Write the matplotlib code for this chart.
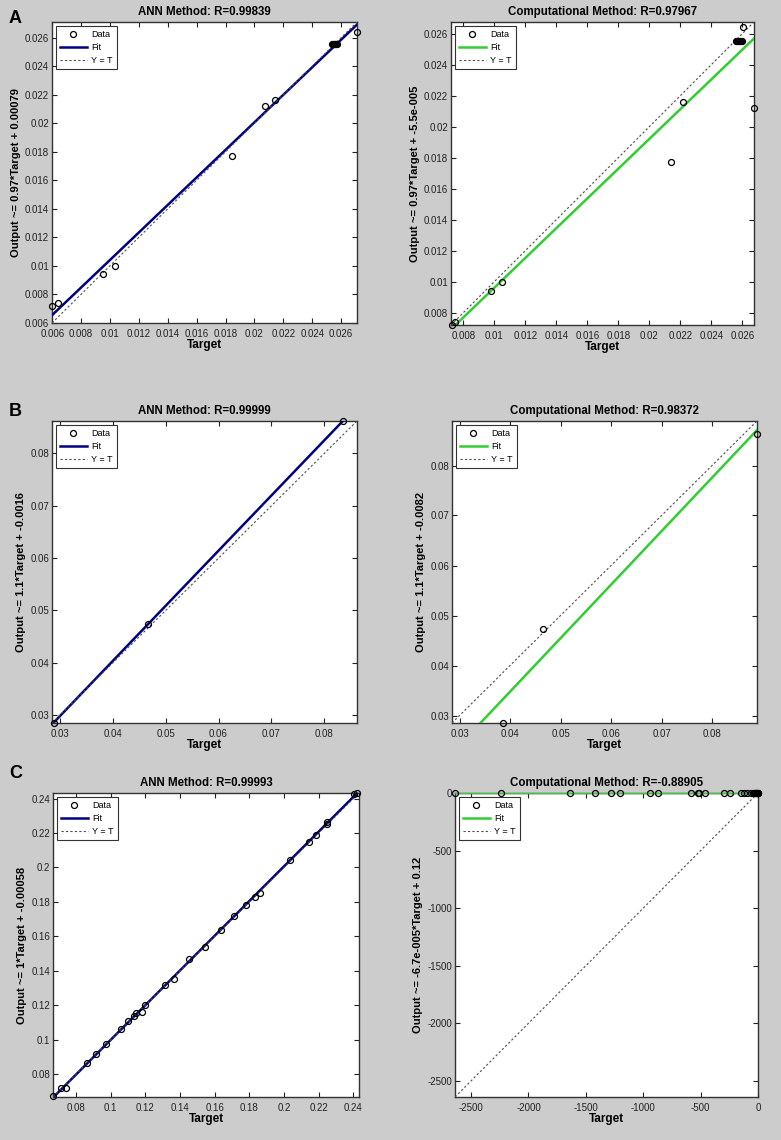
import numpy as np
import matplotlib
matplotlib.use('Agg')
import matplotlib.pyplot as plt
from matplotlib.ticker import FuncFormatter, MultipleLocator
from matplotlib.lines import Line2D

plt.rcParams['font.family'] = ['Liberation Sans', 'DejaVu Sans']

# ---------------- data ----------------
# Panel A (shared outputs)
a_outputs = [0.0072, 0.0074, 0.0094, 0.0100, 0.0177, 0.0212, 0.0216,
             0.02553, 0.02553, 0.02553, 0.02553, 0.02553, 0.02553, 0.02553, 0.0264]
a_ann_targets = [0.00598, 0.0064, 0.0095, 0.01035, 0.01846, 0.02073, 0.02142,
                 0.02535, 0.02542, 0.02548, 0.02553, 0.02558, 0.02563, 0.0257, 0.0271]
a_comp_targets = [0.00725, 0.00746, 0.00977, 0.01047, 0.0214, 0.02675, 0.0222,
                  0.02562, 0.02568, 0.02574, 0.0258, 0.02586, 0.02592, 0.02598, 0.02604]

# Panel B
b_outputs = [0.0285, 0.0474, 0.0862]
b_ann_targets = [0.0288, 0.0466, 0.08355]
b_comp_targets = [0.03868, 0.04643, 0.0889]

# Panel C
c_outputs = [0.0672, 0.0722, 0.0722, 0.0864, 0.0916, 0.0974, 0.1061, 0.1111,
             0.1140, 0.1157, 0.1163, 0.1200, 0.1316, 0.1351, 0.1467, 0.1536,
             0.1636, 0.1718, 0.1785, 0.1829, 0.1853, 0.2042, 0.2148, 0.2191,
             0.2264, 0.2251, 0.2429, 0.2432]
c_ann_targets = [0.0668, 0.0716, 0.0745, 0.0864, 0.0915, 0.0973, 0.1058, 0.1100,
                 0.1133, 0.1148, 0.1181, 0.1196, 0.1315, 0.1363, 0.1454, 0.1542,
                 0.1638, 0.1711, 0.1780, 0.1830, 0.1859, 0.2032, 0.2141, 0.2183,
                 0.2247, 0.2247, 0.2406, 0.2423]
c_comp_targets = [-2640, -2238, -1634, -1424, -1284, -1205, -939, -875, -584, -520,
                  -511, -461, -292, -248, -152, -122, -93, -64, -45, -38, -30, -24,
                  -18, -12, -8, -5, -2, -0.5]
c_comp_outputs = sorted(c_outputs, reverse=True)

titles = ['ANN Method: R=0.99839', 'Computational Method: R=0.97967',
          'ANN Method: R=0.99999', 'Computational Method: R=0.98372',
          'ANN Method: R=0.99993', 'Computational Method: R=-0.88905']
ylabels = ['Output ~= 0.97*Target + 0.00079', 'Output ~= 0.97*Target + -5.5e-005',
           'Output ~= 1.1*Target + -0.0016', 'Output ~= 1.1*Target + -0.0082',
           'Output ~= 1*Target + -0.00058', 'Output ~= -6.7e-005*Target + 0.12']
tick_steps = [0.002, 0.002, 0.01, 0.01, 0.02, 500]
panel_letters = ['A', 'B', 'C']

# ---------------- layout ----------------
W, H = 781, 1140
fig = plt.figure(figsize=(W / 100, H / 100), dpi=100, facecolor='#cccccc')

def pos(x0, y0, x1, y1):
    return [x0 / W, 1 - y1 / H, (x1 - x0) / W, (y1 - y0) / H]

boxes = [(52, 22, 357, 323), (451, 22, 754, 325),
         (52, 421, 357, 723), (452, 421, 757, 723),
         (53, 793, 359, 1097), (455, 793, 758, 1097)]

datasets = [(a_ann_targets, a_outputs), (a_comp_targets, a_outputs),
            (b_ann_targets, b_outputs), (b_comp_targets, b_outputs),
            (c_ann_targets, c_outputs), (c_comp_targets, c_comp_outputs)]

fmt = FuncFormatter(lambda v, p: '%g' % round(v, 8))
ANN_COLOR = '#000080'
COMP_COLOR = '#33cc33'

for i, (box, (t, o)) in enumerate(zip(boxes, datasets)):
    ax = fig.add_axes(pos(*box))
    t = np.asarray(t, float)
    o = np.asarray(o, float)
    lo = min(t.min(), o.min())
    hi = max(t.max(), o.max())
    color = ANN_COLOR if i % 2 == 0 else COMP_COLOR
    slope, intercept = np.polyfit(t, o, 1)
    xs = np.array([lo, hi])
    ax.plot(t, o, ls='none', marker='o', mfc='none', mec='k', mew=0.9, ms=4.3,
            zorder=3, clip_on=False)
    ax.plot(xs, slope * xs + intercept, color=color, lw=1.8, zorder=2.6)
    ax.plot(xs, xs, color='0.3', ls=(0, (2, 2)), lw=0.8, zorder=2.7)
    ax.set_xlim(lo, hi)
    ax.set_ylim(lo, hi)
    ax.xaxis.set_major_locator(MultipleLocator(tick_steps[i]))
    ax.yaxis.set_major_locator(MultipleLocator(tick_steps[i]))
    ax.xaxis.set_major_formatter(fmt)
    ax.yaxis.set_major_formatter(fmt)
    ax.tick_params(direction='in', top=True, right=True, length=3.5, width=0.8,
                   labelsize=7, pad=2, colors='#222222')
    ax.tick_params(axis='x', pad=4)
    for s in ax.spines.values():
        s.set_linewidth(1.0)
        s.set_color('#333333')
    ax.set_title(titles[i], fontsize=8.3, fontweight='bold', pad=5)
    ax.set_xlabel('Target', fontsize=8.5, fontweight='bold', labelpad=0)
    ax.set_ylabel(ylabels[i], fontsize=8, fontweight='bold', labelpad=3)
    handles = [Line2D([], [], ls='none', marker='o', mfc='none', mec='k', mew=0.9, ms=4.3),
               Line2D([], [], color=color, lw=1.8),
               Line2D([], [], color='0.3', ls=(0, (2, 2)), lw=0.8)]
    leg = ax.legend(handles, ['Data', 'Fit', 'Y = T'], loc='upper left', fontsize=6.5,
                    fancybox=False, framealpha=1, edgecolor='#333333',
                    handlelength=3.0, handletextpad=0.5, labelspacing=0.45,
                    borderpad=0.45, borderaxespad=0.4)
    leg.get_frame().set_linewidth(0.8)
    leg.set_zorder(10)

letter_y = [10, 403, 765]
for letter, y in zip(panel_letters, letter_y):
    fig.text(9 / W, 1 - y / H, letter, fontsize=13, fontweight='bold', va='top', ha='left')

fig.savefig('out.png', dpi=100, facecolor=fig.get_facecolor())
